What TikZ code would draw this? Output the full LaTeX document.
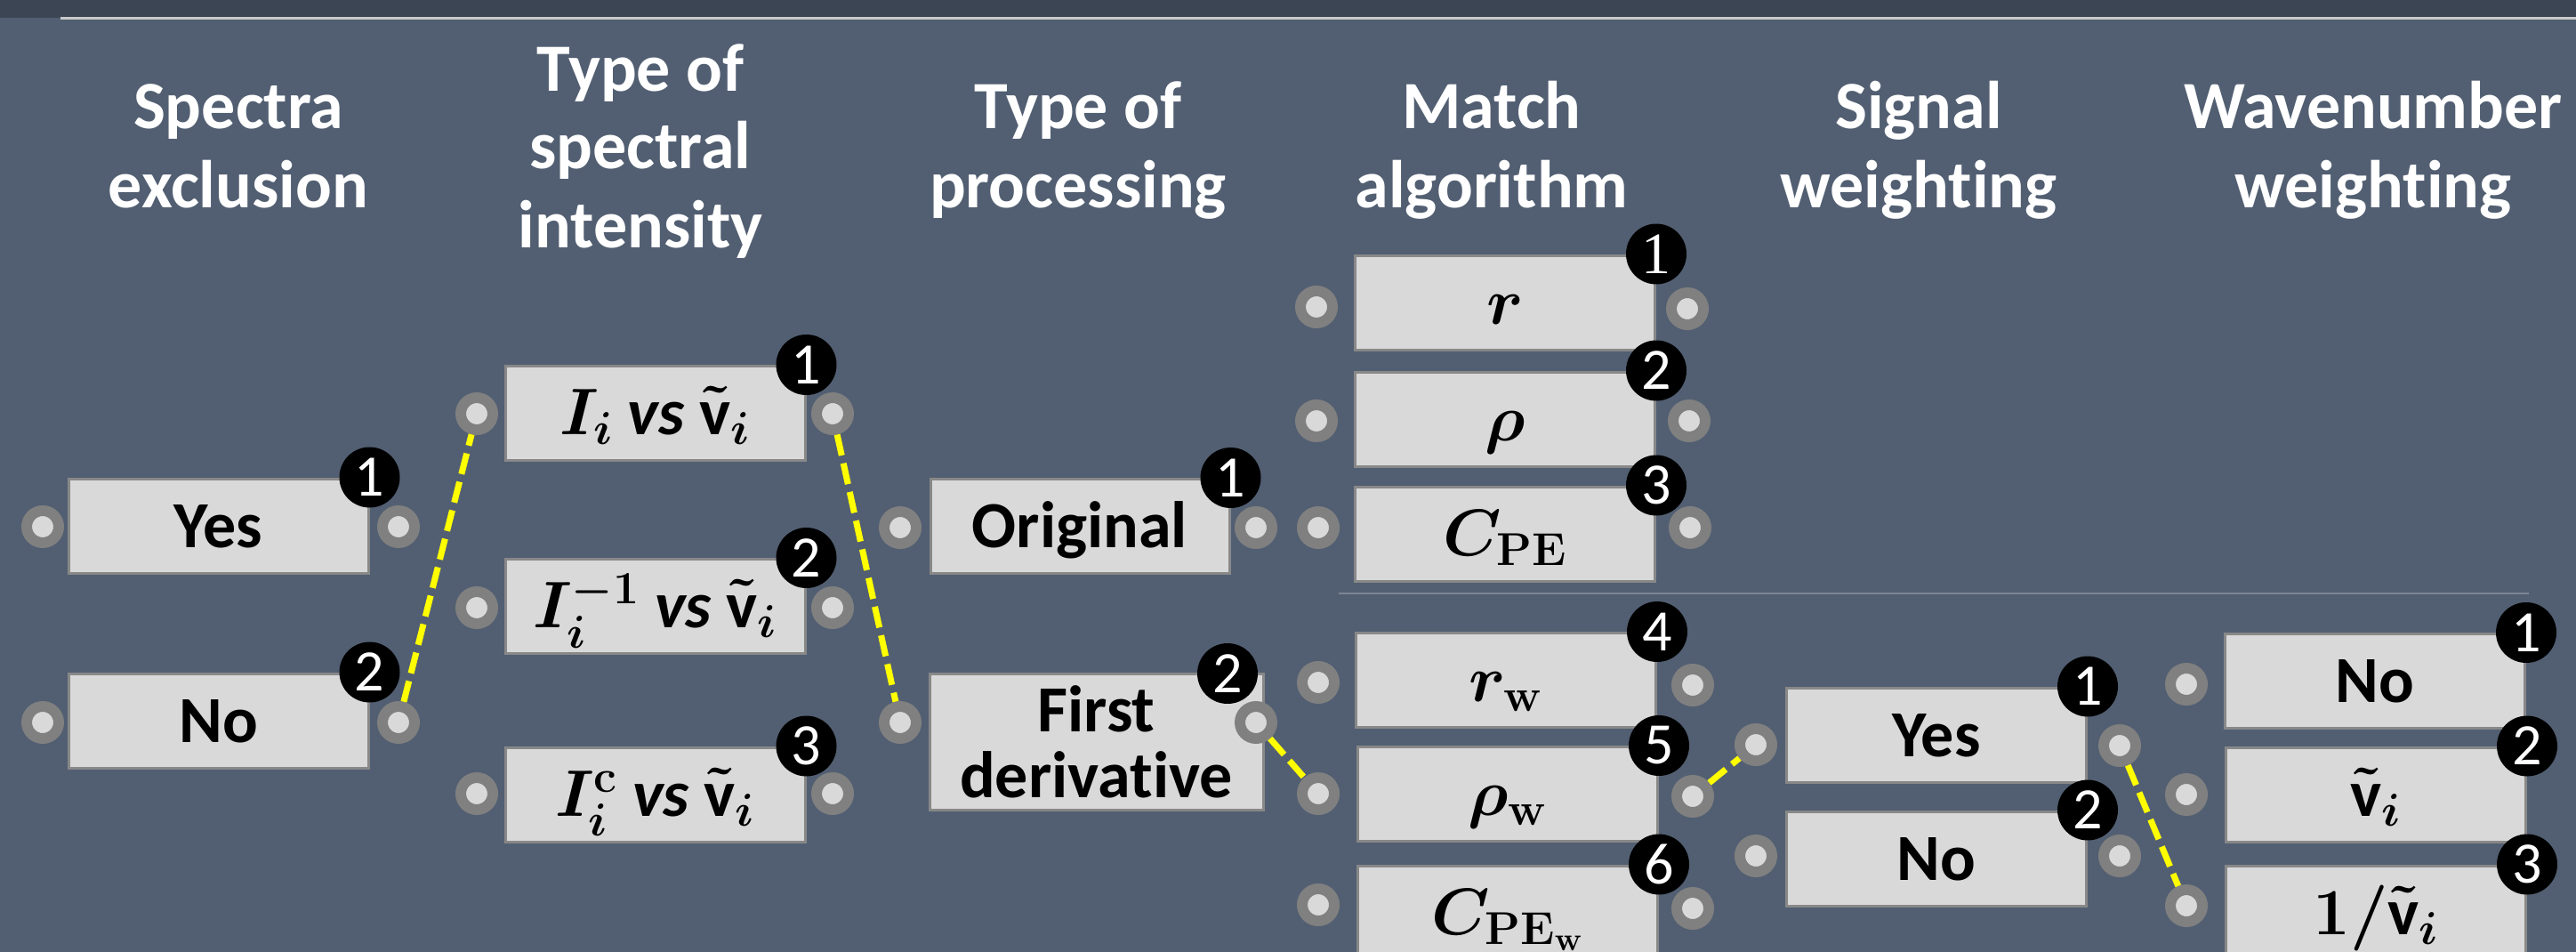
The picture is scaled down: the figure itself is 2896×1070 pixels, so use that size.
\RequirePackage{fix-cm}
\documentclass[tikz,border=0pt]{standalone}
\usepackage[no-math]{fontspec}
\setmainfont{Carlito}[Ligatures=NoCommon]
\newfontfamily\serifnum{Liberation Serif}
\usetikzlibrary{calc}

\definecolor{pagebg}{HTML}{525F72}
\definecolor{bandbg}{HTML}{3C4553}
\definecolor{bandline}{HTML}{C9C9C9}
\definecolor{boxfill}{HTML}{D9D9D9}
\definecolor{boxline}{HTML}{888888}
\definecolor{ringgray}{HTML}{808080}
\definecolor{sepgray}{HTML}{7D8694}
\definecolor{linkyellow}{HTML}{FFFF00}

% bold italic "vs" and the upright bold wavenumber symbol
\newcommand{\vsword}{\textit{vs}}
\newcommand{\wnum}{\tilde{\hbox{\bfseries v}}}

\tikzset{
  optbox/.style={rectangle, fill=boxfill, draw=boxline, line width=1.5pt,
    minimum width=168.5pt, minimum height=53pt, inner sep=0pt,
    font=\fontsize{37}{37}\selectfont\bfseries\boldmath, text=black},
  oneline/.style={text height=24pt, text depth=0pt},
  badge/.style={circle, fill=black, minimum size=34pt, inner sep=0pt,
    text=white, font=\fontsize{33}{33}\selectfont},
  port/.style={circle, fill=boxfill, draw=ringgray, line width=6pt,
    minimum size=18pt, inner sep=0pt},
  link/.style={draw=linkyellow, line width=3.5pt, dash pattern=on 12pt off 4.5pt},
  heading/.style={text=white, align=center, anchor=base,
    font=\fontsize{38}{44}\selectfont\bfseries},
}

\begin{document}
\begin{tikzpicture}[x=0.5pt, y=-0.5pt]
  % canvas
  \useasboundingbox (0,0) rectangle (2896,1070);
  \fill[pagebg] (0,0) rectangle (2896,1070);
  \fill[bandbg] (0,0) rectangle (2896,20);
  \draw[bandline, line width=1.5pt] (68,21) -- (2896,21);
  % separator in the match-algorithm column
  \draw[sepgray, line width=1pt] (1505,667) -- (2843,667);

  % column headings (anchored on the baseline of their last line)
  \node[heading] (h1) at (268,233) {Spectra\\exclusion};
  \node[heading] (h2) at (720,278) {Type of\\spectral\\intensity};
  \node[heading] (h3) at (1212,233) {Type of\\processing};
  \node[heading] (h4) at (1677,233) {Match\\algorithm};
  \node[heading] (h5) at (2157,233) {Signal\\weighting};
  \node[heading] (h6) at (2668,233) {Wavenumber\\weighting};

  % spectra exclusion
  \node[optbox, oneline] (exYes) at (245.5,591) {Yes};
  \node[optbox, oneline] (exNo) at (245.5,810) {No};
  \node[badge] (bExYes) at (exYes.north east) {1};
  \node[badge] (bExNo) at (exNo.north east) {2};
  \node[port] (pExYesL) at (48,592) {};
  \node[port] (pExYesR) at (448,592) {};
  \node[port] (pExNoL) at (48,812) {};
  \node[port] (pExNoR) at (448,812) {};

  % type of spectral intensity
  \node[optbox, oneline] (inA) at (736.5,464.5) {$I_i$ \vsword{} $\wnum_i$};
  \node[optbox, oneline] (inB) at (736.5,681.5) {$I_i^{-1}$ \vsword{} $\wnum_i$};
  \node[optbox, oneline] (inC) at (736.5,893) {$I_i^{\mathbf{c}}$ \vsword{} $\wnum_i$};
  \node[badge] (bInA) at (inA.north east) {1};
  \node[badge] (bInB) at (inB.north east) {2};
  \node[badge] (bInC) at (inC.north east) {3};
  \node[port] (pInAL) at (536,465) {};
  \node[port] (pInAR) at (936,465) {};
  \node[port] (pInBL) at (536,683) {};
  \node[port] (pInBR) at (936,683) {};
  \node[port] (pInCL) at (536,892) {};
  \node[port] (pInCR) at (936,892) {};

  % type of processing
  \node[optbox, oneline, minimum width=168pt] (prOrig) at (1214,591.5) {Original};
  \node[optbox, align=center, minimum width=187.5pt, minimum height=76.5pt]
        (prDer) at (1232.5,833.5) {First\\derivative};
  \node[badge] (bPrOrig) at (prOrig.north east) {1};
  \node[badge] (bPrDer) at (1380,757) {2};
  \node[port] (pPrOrigL) at (1012,593) {};
  \node[port] (pPrOrigR) at (1412,593) {};
  \node[port] (pPrDerL) at (1012,812) {};
  \node[port] (pPrDerR) at (1412,812) {};

  % match algorithm
  \node[optbox, oneline] (maR) at (1692,340) {$r$};
  \node[optbox, oneline] (maRho) at (1692,471) {$\rho$};
  \node[optbox, oneline] (maC) at (1692,600) {$C_{\mathbf{PE}}$};
  \node[optbox, oneline] (maRw) at (1693,764.5) {$r_{\mathbf{w}}$};
  \node[optbox, oneline] (maRhow) at (1695,892.5) {$\rho_{\mathbf{w}}$};
  \node[optbox, oneline] (maCw) at (1695,1026) {$C_{\mathbf{PE}_{\mathbf{w}}}$};
  \node[badge, font=\fontsize{33}{33}\selectfont\serifnum] (bMaR) at (maR.north east) {1};
  \node[badge] (bMaRho) at (maRho.north east) {2};
  \node[badge] (bMaC) at (maC.north east) {3};
  \node[badge] (bMaRw) at (maRw.north east) {4};
  \node[badge] (bMaRhow) at (maRhow.north east) {5};
  \node[badge] (bMaCw) at (maCw.north east) {6};
  \node[port] (pMaRL) at (1480,345) {};
  \node[port] (pMaRR) at (1897,347) {};
  \node[port] (pMaRhoL) at (1480,473) {};
  \node[port] (pMaRhoR) at (1899,473) {};
  \node[port] (pMaCL) at (1482,593) {};
  \node[port] (pMaCR) at (1900,593) {};
  \node[port] (pMaRwL) at (1482,767) {};
  \node[port] (pMaRwR) at (1903,770) {};
  \node[port] (pMaRhowL) at (1482,892) {};
  \node[port] (pMaRhowR) at (1903,895) {};
  \node[port] (pMaCwL) at (1482,1017) {};
  \node[port] (pMaCwR) at (1903,1021) {};

  % signal weighting
  \node[optbox, oneline] (swYes) at (2177,826) {Yes};
  \node[optbox, oneline] (swNo) at (2177,965) {No};
  \node[badge] (bSwYes) at (swYes.north east) {1};
  \node[badge] (bSwNo) at (swNo.north east) {2};
  \node[port] (pSwYesL) at (1974,837) {};
  \node[port] (pSwYesR) at (2383,838) {};
  \node[port] (pSwNoL) at (1974,962) {};
  \node[port] (pSwNoR) at (2383,962) {};

  % wavenumber weighting
  \node[optbox, oneline] (wwNo) at (2670,765.5) {No};
  \node[optbox, oneline] (wwV) at (2671,893) {$\wnum_i$};
  \node[optbox, oneline] (wwInv) at (2671,1026) {$\mathbf{1}/\wnum_i$};
  \node[badge] (bWwNo) at (wwNo.north east) {1};
  \node[badge] (bWwV) at (wwV.north east) {2};
  \node[badge] (bWwInv) at (wwInv.north east) {3};
  \node[port] (pWwNoL) at (2458,769) {};
  \node[port] (pWwVL) at (2458,893) {};
  \node[port] (pWwInvL) at (2458,1018) {};

  % selected path
  \draw[link] (pExNoR) -- (pInAL);
  \draw[link] (pInAR) -- (pPrDerL);
  \draw[link] (pPrDerR) -- (pMaRhowL);
  \draw[link] (pMaRhowR) -- (pSwYesL);
  \draw[link] (pSwYesR) -- (pWwInvL);
\end{tikzpicture}
\end{document}
